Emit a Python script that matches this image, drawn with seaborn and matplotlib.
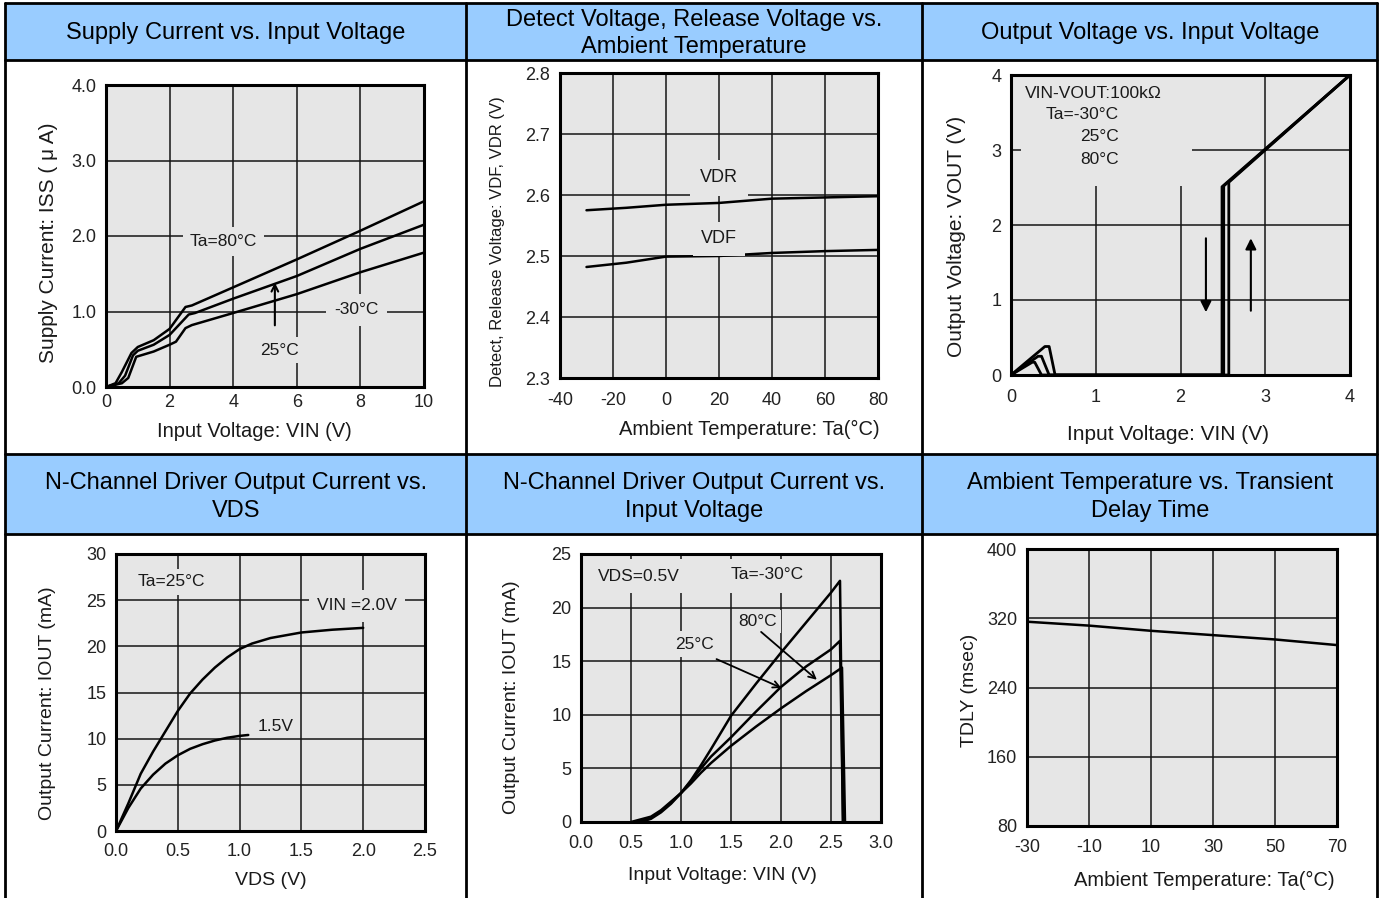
import matplotlib
matplotlib.use("Agg")
import matplotlib.pyplot as plt
from matplotlib.patches import Rectangle
from matplotlib.lines import Line2D
import seaborn as sns

W, H = 1380, 898

# ---------------- data ----------------
header_titles = [
    "Supply Current vs. Input Voltage",
    "Detect Voltage, Release Voltage vs.\nAmbient Temperature",
    "Output Voltage vs. Input Voltage",
    "N-Channel Driver Output Current vs.\nVDS",
    "N-Channel Driver Output Current vs.\nInput Voltage",
    "Ambient Temperature vs. Transient\nDelay Time",
]

# Panel 1: supply current vs input voltage
iss_vin_80 = [0, 0.3, 0.5, 0.8, 1.0, 1.5, 2.0, 2.5, 2.7, 4, 6, 8, 10]
iss_80 = [0, 0.05, 0.2, 0.45, 0.53, 0.62, 0.77, 1.06, 1.08, 1.32, 1.69, 2.07, 2.46]
iss_vin_25 = [0, 0.4, 0.6, 0.85, 1.0, 1.5, 2.0, 2.6, 2.8, 4, 6, 8, 10]
iss_25 = [0, 0.05, 0.15, 0.42, 0.48, 0.56, 0.69, 0.96, 0.98, 1.17, 1.47, 1.83, 2.15]
iss_vin_m30 = [0, 0.5, 0.7, 0.95, 1.5, 2.0, 2.2, 2.5, 2.7, 4, 6, 8, 10]
iss_m30 = [0, 0.05, 0.12, 0.4, 0.47, 0.56, 0.6, 0.78, 0.82, 0.98, 1.23, 1.52, 1.78]

# Panel 2: detect / release voltage vs temperature
ta_vd = [-30, -15, 0, 20, 40, 60, 80]
vdr = [2.575, 2.579, 2.584, 2.587, 2.594, 2.596, 2.598]
vdf = [2.482, 2.489, 2.499, 2.500, 2.505, 2.508, 2.510]

# Panel 3: output voltage vs input voltage
vout_vin_a = [0, 0.25, 0.28, 0.36, 2.49, 2.49, 4]
vout_a = [0, 0.17, 0.17, 0, 0, 2.51, 4]
vout_vin_b = [0, 0.32, 0.36, 0.45, 2.51, 2.51, 4]
vout_b = [0, 0.25, 0.25, 0, 0, 2.52, 4]
vout_vin_c = [0, 0.40, 0.45, 0.52, 2.57, 2.57, 4]
vout_c = [0, 0.38, 0.38, 0, 0, 2.57, 4]

# Panel 4: output current vs VDS
vds_20 = [0, 0.1, 0.2, 0.3, 0.4, 0.5, 0.6, 0.7, 0.8, 0.9, 1.0, 1.1, 1.25, 1.5, 1.75, 2.0]
iout_20 = [0, 3.0, 6.2, 8.6, 10.8, 13.0, 14.9, 16.4, 17.7, 18.8, 19.7, 20.3, 20.9, 21.5, 21.8, 22.0]
vds_15 = [0, 0.1, 0.2, 0.3, 0.4, 0.5, 0.6, 0.7, 0.8, 0.9, 1.0, 1.07]
iout_15 = [0, 2.5, 4.6, 6.1, 7.3, 8.2, 8.9, 9.4, 9.8, 10.1, 10.3, 10.4]

# Panel 5: output current vs input voltage
vin_m30 = [0.6, 0.7, 0.8, 0.9, 1.0, 1.1, 1.2, 1.3, 1.5, 1.75, 2.0, 2.25, 2.5, 2.59, 2.62]
iout_m30 = [0, 0.3, 0.9, 1.7, 2.7, 3.9, 5.3, 6.8, 9.9, 12.9, 15.8, 18.6, 21.4, 22.5, 0]
vin_25 = [0.55, 0.7, 0.8, 0.9, 1.0, 1.1, 1.2, 1.3, 1.5, 1.75, 2.0, 2.25, 2.5, 2.59, 2.62]
iout_25 = [0, 0.4, 1.0, 1.8, 2.7, 3.8, 5.0, 6.1, 7.9, 10.3, 12.6, 14.5, 16.1, 16.9, 0]
vin_80 = [0.5, 0.7, 0.8, 0.9, 1.0, 1.1, 1.2, 1.3, 1.5, 1.75, 2.0, 2.25, 2.5, 2.61, 2.64]
iout_80 = [0, 0.5, 1.1, 1.9, 2.7, 3.6, 4.6, 5.5, 7.1, 8.9, 10.6, 12.2, 13.7, 14.4, 0]

# Panel 6: delay time vs temperature
ta_dly = [-30, -10, 10, 30, 50, 70]
tdly = [316, 311.5, 305.5, 300.5, 295.5, 289]

# ---------------- style ----------------
sns.set_theme(style="white")
plt.rcParams["font.family"] = ["Liberation Sans", "DejaVu Sans"]
BG = "#e6e6e6"
HDR = "#99ccff"
TXT = "#1a1a1a"

fig = plt.figure(figsize=(W / 100, H / 100), dpi=100)
fig.patch.set_facecolor("white")


def fx(x):
    return x / W


def fy(y):
    return 1 - y / H


# table header fills
for (y1, y2) in [(3, 60), (454, 534)]:
    fig.add_artist(Rectangle((fx(5), fy(y2)), fx(1377) - fx(5), (y2 - y1) / H,
                             transform=fig.transFigure, fc=HDR, ec="none", zorder=-1))
# table lines
for y in [3, 60, 454, 534]:
    fig.add_artist(Line2D([fx(5), fx(1377)], [fy(y), fy(y)], transform=fig.transFigure,
                          color="black", lw=2.0, zorder=5))
for x in [5, 466, 922, 1377]:
    fig.add_artist(Line2D([fx(x), fx(x)], [fy(3), fy(898)], transform=fig.transFigure,
                          color="black", lw=2.0, zorder=5))

# header texts
col_cx = [236, 694, 1150]
for i, t in enumerate(header_titles):
    cy = 33.5 if i < 3 else 497
    fig.text(fx(col_cx[i % 3]), fy(cy), t, ha="center", va="center", fontsize=17,
             color="black", linespacing=1.3)


def make_ax(l, t, r, b):
    return fig.add_axes([fx(l), fy(b), (r - l) / W, (b - t) / H])


def style(ax, xlim, ylim, xt, yt, xfmt, yfmt, xpad=5):
    ax.set_facecolor(BG)
    ax.set_xlim(xlim)
    ax.set_ylim(ylim)
    ax.set_xticks(xt)
    ax.set_xticklabels([xfmt.format(v) for v in xt])
    ax.set_yticks(yt)
    ax.set_yticklabels([yfmt.format(v) for v in yt])
    ax.grid(True, color="#151515", lw=1.1)
    ax.set_axisbelow(True)
    for s in ax.spines.values():
        s.set_visible(True)
        s.set_linewidth(2.2)
        s.set_color("black")
    ax.tick_params(axis="both", length=0, labelsize=13, colors="#222222")
    ax.tick_params(axis="x", pad=xpad)
    ax.tick_params(axis="y", pad=7)


def labels(ax, xl, yl, xpos, ypos, xs=14.5, ys=14.5):
    ax.set_xlabel(xl, fontsize=xs, color=TXT, va="center")
    ax.set_ylabel(yl, fontsize=ys, color=TXT, va="center")
    ax.xaxis.set_label_coords(*xpos)
    ax.yaxis.set_label_coords(*ypos)


def curve(ax, x, y, lw=1.8):
    sns.lineplot(x=x, y=y, ax=ax, sort=False, estimator=None, color="black", lw=lw)


def note(ax, x, y, s, pad=3, size=12.5, ha="center"):
    ax.text(x, y, s, ha=ha, va="center", fontsize=size, color=TXT, zorder=3,
            bbox=dict(fc=BG, ec="none", pad=pad))


# ---------------- panel 1 ----------------
ax1 = make_ax(106, 85, 424, 387)
curve(ax1, iss_vin_80, iss_80)
curve(ax1, iss_vin_25, iss_25)
curve(ax1, iss_vin_m30, iss_m30)
style(ax1, (0, 10), (0, 4), [0, 2, 4, 6, 8, 10], [0, 1, 2, 3, 4], "{:g}", "{:.1f}", xpad=5)
labels(ax1, "Input Voltage: VIN (V)", "Supply Current: ISS ( μ A)",
       (0.467, -0.146), (-0.182, 0.477), 14.5, 15)
note(ax1, 3.69, 1.93, "Ta=80°C", pad=5)
note(ax1, 7.88, 1.02, "-30°C", pad=6)
note(ax1, 5.47, 0.49, "25°C", pad=4)
ax1.annotate("", xy=(5.31, 1.42), xytext=(5.31, 0.78),
             arrowprops=dict(arrowstyle="->", lw=1.5, color="black"))

# ---------------- panel 2 ----------------
ax2 = make_ax(560, 73, 878, 378)
curve(ax2, ta_vd, vdr)
curve(ax2, ta_vd, vdf)
style(ax2, (-40, 80), (2.3, 2.8), [-40, -20, 0, 20, 40, 60, 80],
      [2.3, 2.4, 2.5, 2.6, 2.7, 2.8], "{:g}", "{:.1f}", xpad=10)
labels(ax2, "Ambient Temperature: Ta(°C)", "Detect, Release Voltage: VDF, VDR (V)",
       (0.594, -0.170), (-0.198, 0.446), 14.5, 12)
note(ax2, 20, 2.628, "VDR", pad=7, size=13)
note(ax2, 20, 2.528, "VDF", pad=6, size=13)

# ---------------- panel 3 ----------------
ax3 = make_ax(1011, 75, 1350, 375)
ax3.add_patch(Rectangle((0.12, 2.52), 2.01, 1.46, fc=BG, ec="none", zorder=1))
curve(ax3, vout_vin_a, vout_a, lw=2.0)
curve(ax3, vout_vin_b, vout_b, lw=2.0)
curve(ax3, vout_vin_c, vout_c, lw=2.0)
style(ax3, (0, 4), (0, 4), [0, 1, 2, 3, 4], [0, 1, 2, 3, 4], "{:g}", "{:g}", xpad=10)
labels(ax3, "Input Voltage: VIN (V)", "Output Voltage: VOUT (V)",
       (0.463, -0.200), (-0.162, 0.463), 15, 15)
ax3.text(0.17, 3.76, "VIN-VOUT:100kΩ", ha="left", va="center", fontsize=12.5, color=TXT, zorder=3)
ax3.text(1.27, 3.47, "Ta=-30°C", ha="right", va="center", fontsize=12.5, color=TXT, zorder=3)
ax3.text(1.27, 3.18, "25°C", ha="right", va="center", fontsize=12.5, color=TXT, zorder=3)
ax3.text(1.27, 2.88, "80°C", ha="right", va="center", fontsize=12.5, color=TXT, zorder=3)
ax3.annotate("", xy=(2.30, 0.80), xytext=(2.30, 1.86),
             arrowprops=dict(arrowstyle="-|>", lw=1.5, color="black", mutation_scale=16))
ax3.annotate("", xy=(2.83, 1.86), xytext=(2.83, 0.82),
             arrowprops=dict(arrowstyle="-|>", lw=1.5, color="black", mutation_scale=16))

# ---------------- panel 4 ----------------
ax4 = make_ax(116, 554, 425, 831)
curve(ax4, vds_20, iout_20)
curve(ax4, vds_15, iout_15)
style(ax4, (0, 2.5), (0, 30), [0, 0.5, 1.0, 1.5, 2.0, 2.5], [0, 5, 10, 15, 20, 25, 30],
      "{:.1f}", "{:g}", xpad=9)
labels(ax4, "VDS (V)", "Output Current: IOUT (mA)", (0.50, -0.177), (-0.223, 0.462), 14, 14)
note(ax4, 0.45, 27.0, "Ta=25°C", pad=4)
note(ax4, 1.95, 24.4, "VIN =2.0V", pad=6)
note(ax4, 1.29, 11.3, "1.5V", pad=3)

# ---------------- panel 5 ----------------
ax5 = make_ax(581, 554, 881, 822)
ax5.add_patch(Rectangle((0.15, 21.4), 2.2, 3.1, fc=BG, ec="none", zorder=1))
curve(ax5, vin_m30, iout_m30)
curve(ax5, vin_25, iout_25)
curve(ax5, vin_80, iout_80)
style(ax5, (0, 3), (0, 25), [0, 0.5, 1.0, 1.5, 2.0, 2.5, 3.0], [0, 5, 10, 15, 20, 25],
      "{:.1f}", "{:g}", xpad=9)
labels(ax5, "Input Voltage: VIN (V)", "Output Current: IOUT (mA)",
       (0.47, -0.198), (-0.23, 0.466), 14, 14)
note(ax5, 0.58, 22.9, "VDS=0.5V", pad=2)
note(ax5, 1.86, 23.1, "Ta=-30°C", pad=2)
note(ax5, 1.77, 18.7, "80°C", pad=3)
note(ax5, 1.14, 16.6, "25°C", pad=4)
ax5.annotate("", xy=(2.03, 12.4), xytext=(1.33, 15.3),
             arrowprops=dict(arrowstyle="->", lw=1.3, color="black"))
ax5.annotate("", xy=(2.38, 13.1), xytext=(1.78, 17.9),
             arrowprops=dict(arrowstyle="->", lw=1.3, color="black"))

# ---------------- panel 6 ----------------
ax6 = make_ax(1027, 549, 1337, 826)
curve(ax6, ta_dly, tdly)
style(ax6, (-30, 70), (80, 400), [-30, -10, 10, 30, 50, 70], [80, 160, 240, 320, 400],
      "{:g}", "{:g}", xpad=9)
labels(ax6, "Ambient Temperature: Ta(°C)", "TDLY (msec)", (0.571, -0.195), (-0.187, 0.491), 14.5, 14)

fig.savefig("out.png", dpi=100)
